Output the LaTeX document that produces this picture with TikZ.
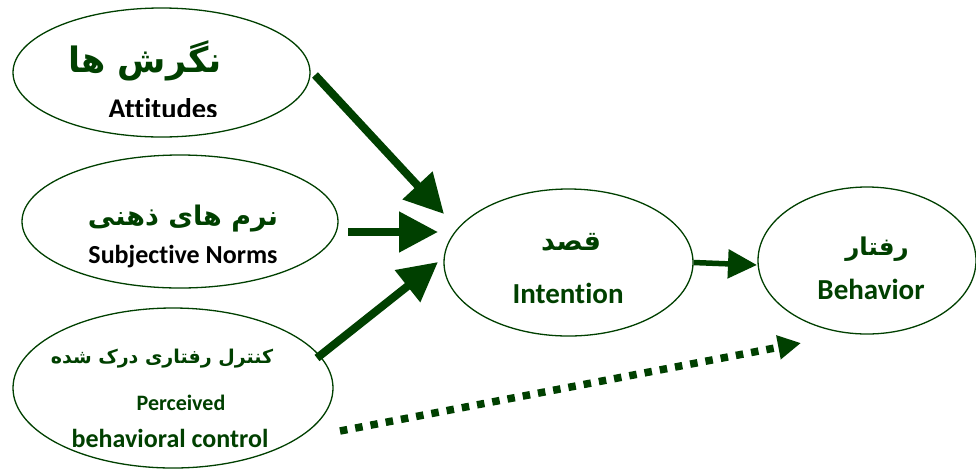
\documentclass[tikz,border=0pt]{standalone}
\usepackage{fontspec}
\setmainfont{Carlito}[Ligatures=NoCommon]
\newfontfamily\fa[Script=Arabic]{DejaVu Sans}
\TeXXeTstate=1
\usetikzlibrary{shapes.geometric,arrows.meta}
\definecolor{dg}{RGB}{0,64,0}
\begin{document}
\begin{tikzpicture}[x=1pt,y=-1pt,
  oval/.style={draw=dg,line width=1.3pt,ellipse,inner sep=0pt},
  fatarrow/.style={draw=dg,line width=8pt,-{Triangle[length=39pt,width=39pt]}},
  midarrow/.style={draw=dg,line width=5.5pt,-{Triangle[length=29pt,width=28pt]}},
  dotarrow/.style={draw=dg,line width=7.5pt,dash pattern=on 7.5pt off 8pt,-{Triangle[length=23pt,width=23pt]}},
  fatxt/.style={anchor=base,text=dg,font=\fa\bfseries},
  entxt/.style={anchor=base,font=\bfseries}]
\useasboundingbox[fill=white] (0,0) rectangle (976,475);
% ellipses
\node[oval,minimum width=297pt,minimum height=129pt] (att) at (161.5,72.5) {};
\node[oval,minimum width=316pt,minimum height=133pt] (sn) at (180,221.5) {};
\node[oval,minimum width=320pt,minimum height=160pt] (pbc) at (173,388) {};
\node[oval,minimum width=249pt,minimum height=147pt] (int) at (568.5,262.5) {};
\node[oval,minimum width=218pt,minimum height=147pt] (beh) at (867,260.5) {};
% texts
\node[fatxt,font=\fa\bfseries\fontsize{35}{38}\selectfont] (t1a) at (145,72) {\beginR نگرش ها\endR};
\begin{scope}
\clip (0,0) rectangle (976,116.5);
\node[entxt,font=\bfseries\fontsize{28.5}{30}\selectfont] (t1b) at (163,118) {Attitudes};
\end{scope}
\node[fatxt,font=\fa\bfseries\fontsize{27}{30}\selectfont] (t2a) at (183,225) {\beginR نرم های ذهنی\endR};
\node[entxt,font=\bfseries\fontsize{26}{28}\selectfont] (t2b) at (183,263) {Subjective Norms};
\node[fatxt,font=\fa\bfseries\fontsize{19}{22}\selectfont] (t3a) at (162,363) {\beginR کنترل رفتاری درک شده\endR};
\node[entxt,text=dg,font=\bfseries\fontsize{22}{26}\selectfont] (t3b) at (181,410) {Perceived};
\node[entxt,text=dg,font=\bfseries\fontsize{26}{28}\selectfont] (t3c) at (170,447) {behavioral control};
\node[fatxt,font=\fa\bfseries\fontsize{27}{30}\selectfont] (t4a) at (571,250) {\beginR قصد\endR};
\node[entxt,text=dg,font=\bfseries\fontsize{29}{30}\selectfont] (t4b) at (568,303) {Intention};
\node[fatxt,font=\fa\bfseries\fontsize{24.5}{26}\selectfont] (t5a) at (877,255) {\beginR رفتار\endR};
\node[entxt,text=dg,font=\bfseries\fontsize{29}{30}\selectfont] (t5b) at (871,299) {Behavior};
% arrow end points
\coordinate (a1s) at (315,75);
\coordinate (a1e) at (444,214);
\coordinate (a2s) at (348,232);
\coordinate (a2e) at (438,232);
\coordinate (a3s) at (317,358);
\coordinate (a3e) at (438,262);
\coordinate (a4s) at (int.east);
\coordinate (a4e) at (757,265);
\coordinate (a5s) at (340,431);
\coordinate (a5e) at (801,343);
\draw[fatarrow] (a1s) -- (a1e);
\draw[fatarrow] (a2s) -- (a2e);
\draw[fatarrow] (a3s) -- (a3e);
\draw[midarrow] (a4s) -- (a4e);
\draw[dotarrow] (a5s) -- (a5e);
\end{tikzpicture}
\end{document}
